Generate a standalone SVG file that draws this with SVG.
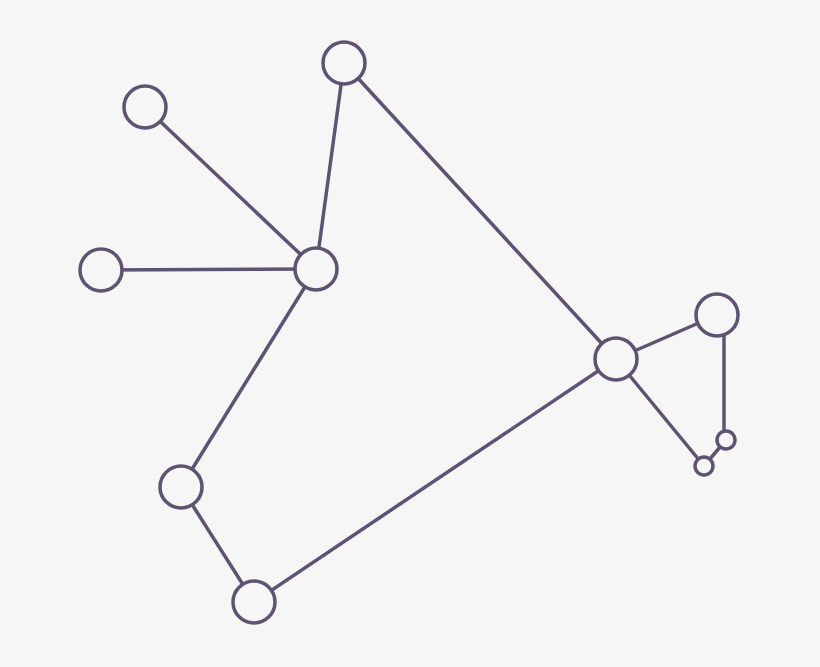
<svg xmlns="http://www.w3.org/2000/svg" width="820" height="667" viewBox="0 0 820 667">
<style>
.e{stroke:#5f5272;stroke-width:3.5;fill:none;stroke-linecap:round}
.n{fill:#f6f6f6;stroke:#5f5272;stroke-width:3.5}
</style>
<rect width="820" height="667" fill="#f6f6f6"/>
<g id="connectors">
<line class="e" x1="145" y1="107" x2="316" y2="269"/>
<line class="e" x1="101" y1="270" x2="316" y2="269"/>
<line class="e" x1="344" y1="63" x2="316" y2="269"/>
<line class="e" x1="316" y1="269" x2="181" y2="487"/>
<line class="e" x1="181" y1="487" x2="254" y2="602"/>
<line class="e" x1="254" y1="602" x2="616" y2="359"/>
<line class="e" x1="344" y1="63" x2="616" y2="359"/>
<line class="e" x1="616" y1="359" x2="717" y2="315"/>
<line class="e" x1="724" y1="320" x2="724" y2="440"/>
<line class="e" x1="726" y1="440" x2="704" y2="466"/>
<line class="e" x1="616" y1="359" x2="704" y2="466"/>
</g>
<g id="nA"><circle class="n" cx="344" cy="63" r="21"/></g>
<g id="nB"><circle class="n" cx="145" cy="107" r="21"/></g>
<g id="nC"><circle class="n" cx="316" cy="269" r="21"/></g>
<g id="nD"><circle class="n" cx="101" cy="270" r="21"/></g>
<g id="nE"><circle class="n" cx="181" cy="487" r="21"/></g>
<g id="nF"><circle class="n" cx="254" cy="602" r="21"/></g>
<g id="nG"><circle class="n" cx="616" cy="359" r="21"/></g>
<g id="nH"><circle class="n" cx="717" cy="315" r="21"/></g>
<g id="nI"><circle class="n" cx="726" cy="440" r="9"/></g>
<g id="nJ"><circle class="n" cx="704" cy="466" r="9"/></g>
</svg>
